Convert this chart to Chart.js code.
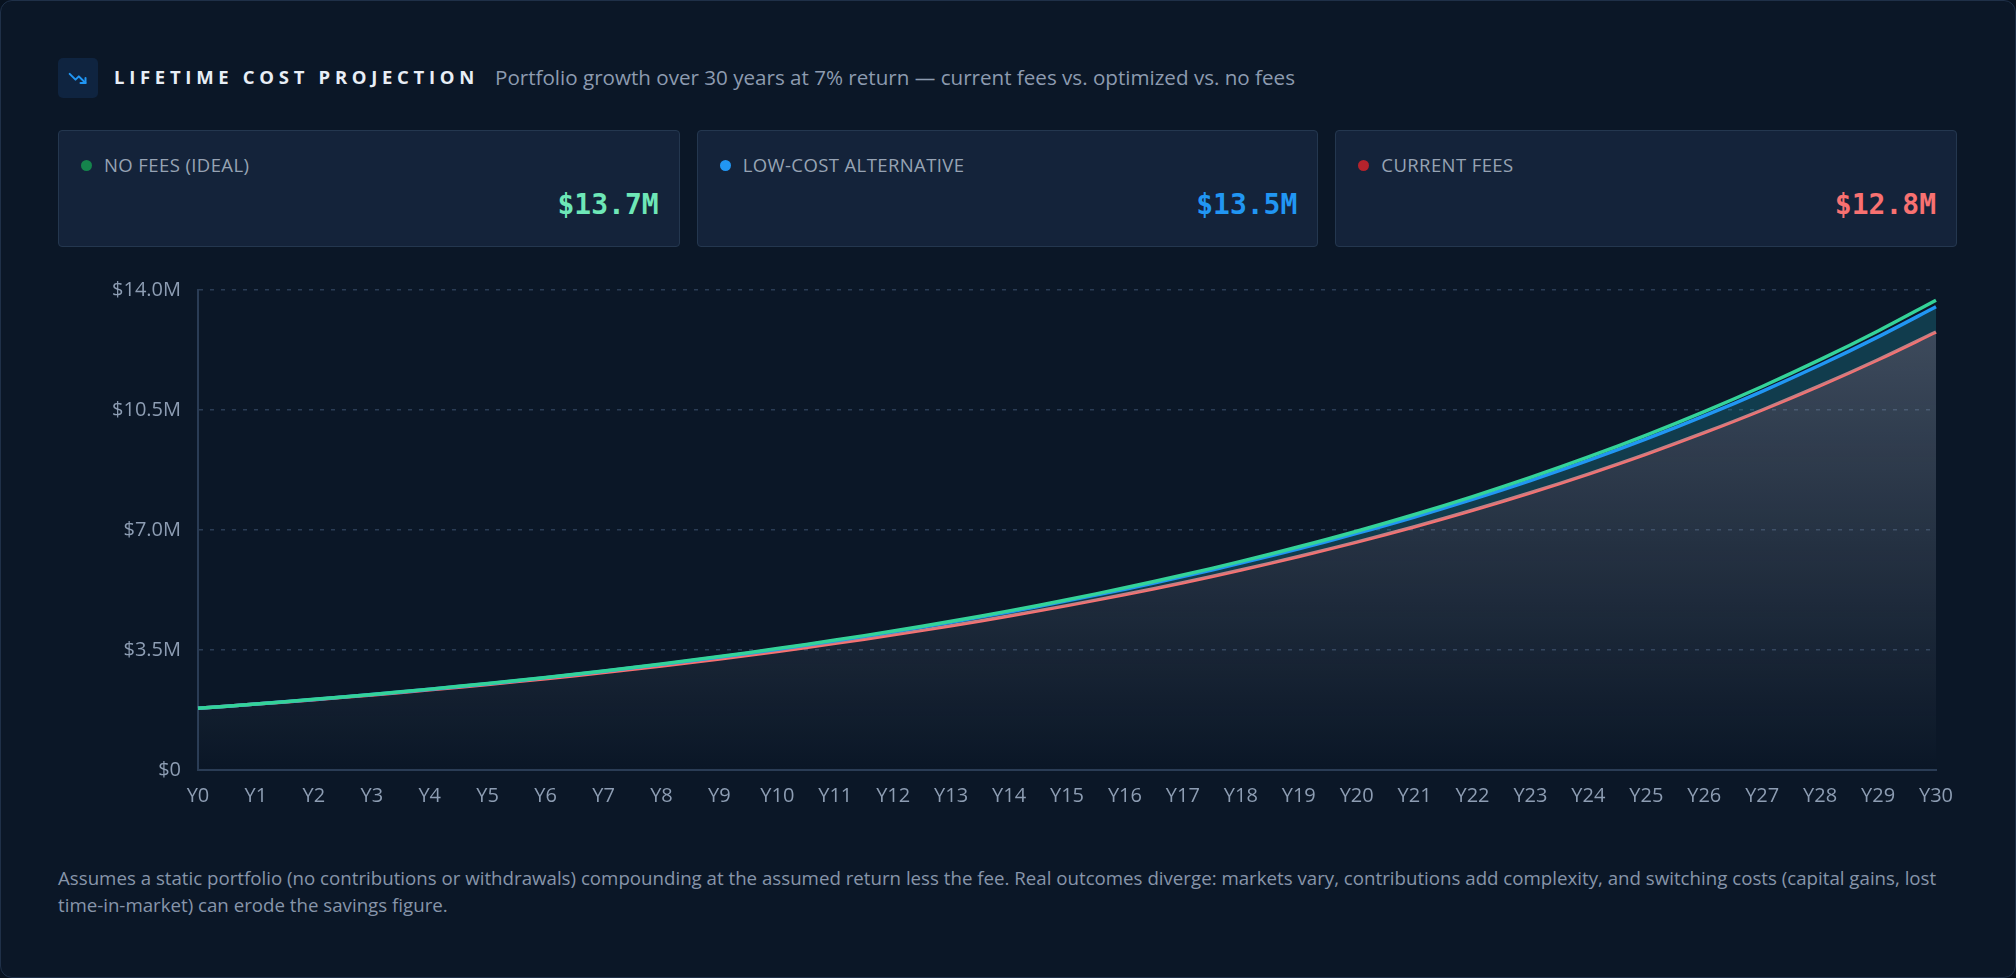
<!DOCTYPE html>
<html>
<head>
<meta charset="utf-8">
<script src="https://cdn.jsdelivr.net/npm/chart.js@4.4.1/dist/chart.umd.min.js"></script>
<style>
  html, body { margin:0; padding:0; background:#08121f; width:2016px; height:978px; overflow:hidden; }
  body { font-family: "Open Sans", "Noto Sans", sans-serif; }
  .frame { position:absolute; left:0; top:0; width:2014px; height:976px; border:1px solid #1f3048; border-radius:12px; background:#0b1727; }
  .icon { position:absolute; left:58px; top:58px; width:40px; height:40px; border-radius:5px; background:#0f2440; display:flex; align-items:center; justify-content:center; }
  .title { position:absolute; left:114px; top:64px; height:26px; line-height:26px; font-weight:700; font-size:18.5px; letter-spacing:4.7px; color:#e8eef6; white-space:nowrap; }
  .subtitle { position:absolute; left:495px; top:64px; height:26px; line-height:26px; font-size:20.6px; color:#8d9bb0; white-space:nowrap; }
  .cards { position:absolute; left:58px; top:130px; width:1899px; height:117px; display:grid; grid-template-columns:1fr 1fr 1fr; column-gap:17px; }
  .card { position:relative; background:#14233a; border:1px solid #24374f; border-radius:4px; }
  .lab { position:absolute; left:22px; top:22px; height:24px; line-height:24px; font-size:18.5px; letter-spacing:0.4px; color:#97a3b4; display:flex; align-items:center; white-space:nowrap; }
  .dot { width:11px; height:11px; border-radius:50%; margin-right:12px; }
  .val { position:absolute; right:20px; top:55px; height:38px; line-height:38px; font-family:"DejaVu Sans Mono", "Liberation Mono", monospace; font-weight:700; font-size:28px; }
  .chartbox { position:absolute; left:58px; top:270px; width:1900px; height:550px; }
  .foot { position:absolute; left:58px; top:864px; width:1910px; font-size:18.7px; line-height:27px; color:#8795aa; white-space:nowrap; }
</style>
</head>
<body>
<div class="frame"></div>
<div class="icon">
  <svg width="20" height="20" viewBox="0 0 24 24" fill="none" stroke="#2196f3" stroke-width="2.4" stroke-linecap="round" stroke-linejoin="round">
    <polyline points="2,7 9,14 13,10 21,18"></polyline>
    <polyline points="15,18 21,18 21,12"></polyline>
  </svg>
</div>
<div class="title">LIFETIME COST PROJECTION</div>
<div class="subtitle">Portfolio growth over 30 years at 7% return — current fees vs. optimized vs. no fees</div>

<div class="cards">
  <div class="card"><div class="lab"><span class="dot" style="background:#15844c"></span>NO FEES (IDEAL)</div><div class="val" style="color:#6ee7b7">$13.7M</div></div>
  <div class="card"><div class="lab"><span class="dot" style="background:#2196f3"></span>LOW-COST ALTERNATIVE</div><div class="val" style="color:#2196f3">$13.5M</div></div>
  <div class="card"><div class="lab"><span class="dot" style="background:#b4232c"></span>CURRENT FEES</div><div class="val" style="color:#f87171">$12.8M</div></div>
</div>

<div class="chartbox"><canvas id="c"></canvas></div>

<div class="foot">Assumes a static portfolio (no contributions or withdrawals) compounding at the assumed return less the fee. Real outcomes diverge: markets vary, contributions add complexity, and switching costs (capital gains, lost<br>time-in-market) can erode the savings figure.</div>

<script>
// Values in $ millions
const years = ["Y0","Y1","Y2","Y3","Y4","Y5","Y6","Y7","Y8","Y9","Y10","Y11","Y12","Y13","Y14","Y15","Y16","Y17","Y18","Y19","Y20","Y21","Y22","Y23","Y24","Y25","Y26","Y27","Y28","Y29","Y30"];
const noFees = [1.800,1.926,2.061,2.205,2.359,2.525,2.701,2.890,3.093,3.309,3.541,3.789,4.054,4.338,4.641,4.966,5.314,5.686,6.084,6.510,6.965,7.453,7.975,8.533,9.130,9.769,10.453,11.185,11.968,12.806,13.702];
const lowCost = [1.800,1.925,2.059,2.202,2.355,2.519,2.694,2.881,3.081,3.295,3.524,3.769,4.031,4.311,4.611,4.932,5.274,5.641,6.033,6.452,6.901,7.380,7.893,8.442,9.028,9.656,10.327,11.045,11.812,12.633,13.511];
const currentFees = [1.800,1.922,2.051,2.190,2.337,2.495,2.664,2.843,3.035,3.240,3.459,3.693,3.942,4.208,4.492,4.795,5.119,5.464,5.833,6.227,6.647,7.096,7.575,8.086,8.632,9.214,9.837,10.500,11.209,11.966,12.774];
const yTicks = [0, 3.5, 7.0, 10.5, 14.0];

const tickFont = { family: '"Open Sans", "Noto Sans", sans-serif', size: 20 };

function greyGradient(ctx) {
  const chart = ctx.chart;
  const area = chart.chartArea;
  if (!area) return 'rgba(148,163,184,0.3)';
  const g = chart.ctx.createLinearGradient(0, area.top, 0, area.bottom);
  g.addColorStop(0, 'rgba(148,163,184,0.40)');
  g.addColorStop(1, 'rgba(148,163,184,0.0)');
  return g;
}

new Chart(document.getElementById('c'), {
  type: 'line',
  data: {
    labels: years,
    datasets: [
      { label: 'No fees (ideal)', data: noFees, borderColor: '#34d399', borderWidth: 3.5, pointRadius: 0, tension: 0.35, fill: false, order: 1 },
      { label: 'Low-cost alternative', data: lowCost, borderColor: '#2196f3', borderWidth: 3.5, pointRadius: 0, tension: 0.35, fill: '+1', backgroundColor: 'rgba(34,170,190,0.25)', order: 2 },
      { label: 'Current fees', data: currentFees, borderColor: '#f87171', borderWidth: 3.5, pointRadius: 0, tension: 0.35, fill: 'origin', backgroundColor: greyGradient, order: 3 }
    ]
  },
  options: {
    responsive: true,
    maintainAspectRatio: false,
    animation: false,
    layout: { padding: { top: 20, right: 22, bottom: 0, left: 0 } },
    plugins: { legend: { display: false }, tooltip: { enabled: false } },
    scales: {
      x: {
        grid: { display: false, drawTicks: false },
        border: { display: true, color: '#2a3c55', width: 2 },
        ticks: { color: '#8d9db3', font: tickFont, padding: 14, maxRotation: 0, autoSkip: false },
        afterFit: (s) => { s.height = 50; s.paddingLeft = 0; s.paddingRight = 0; }
      },
      y: {
        min: 0, max: 14,
        afterBuildTicks: (s) => { s.ticks = yTicks.map(v => ({ value: v })); },
        grid: { color: '#2a3c55', lineWidth: 1.5, drawTicks: false },
        border: { display: true, color: '#2a3c55', width: 2, dash: [4, 7] },
        ticks: {
          color: '#8d9db3', font: tickFont, padding: 17,
          callback: (v) => v === 0 ? '$0' : '$' + Number(v).toFixed(1) + 'M'
        },
        afterFit: (s) => { s.width = 140; s.paddingTop = 0; s.paddingBottom = 0; }
      }
    }
  }
});
</script>
</body>
</html>
